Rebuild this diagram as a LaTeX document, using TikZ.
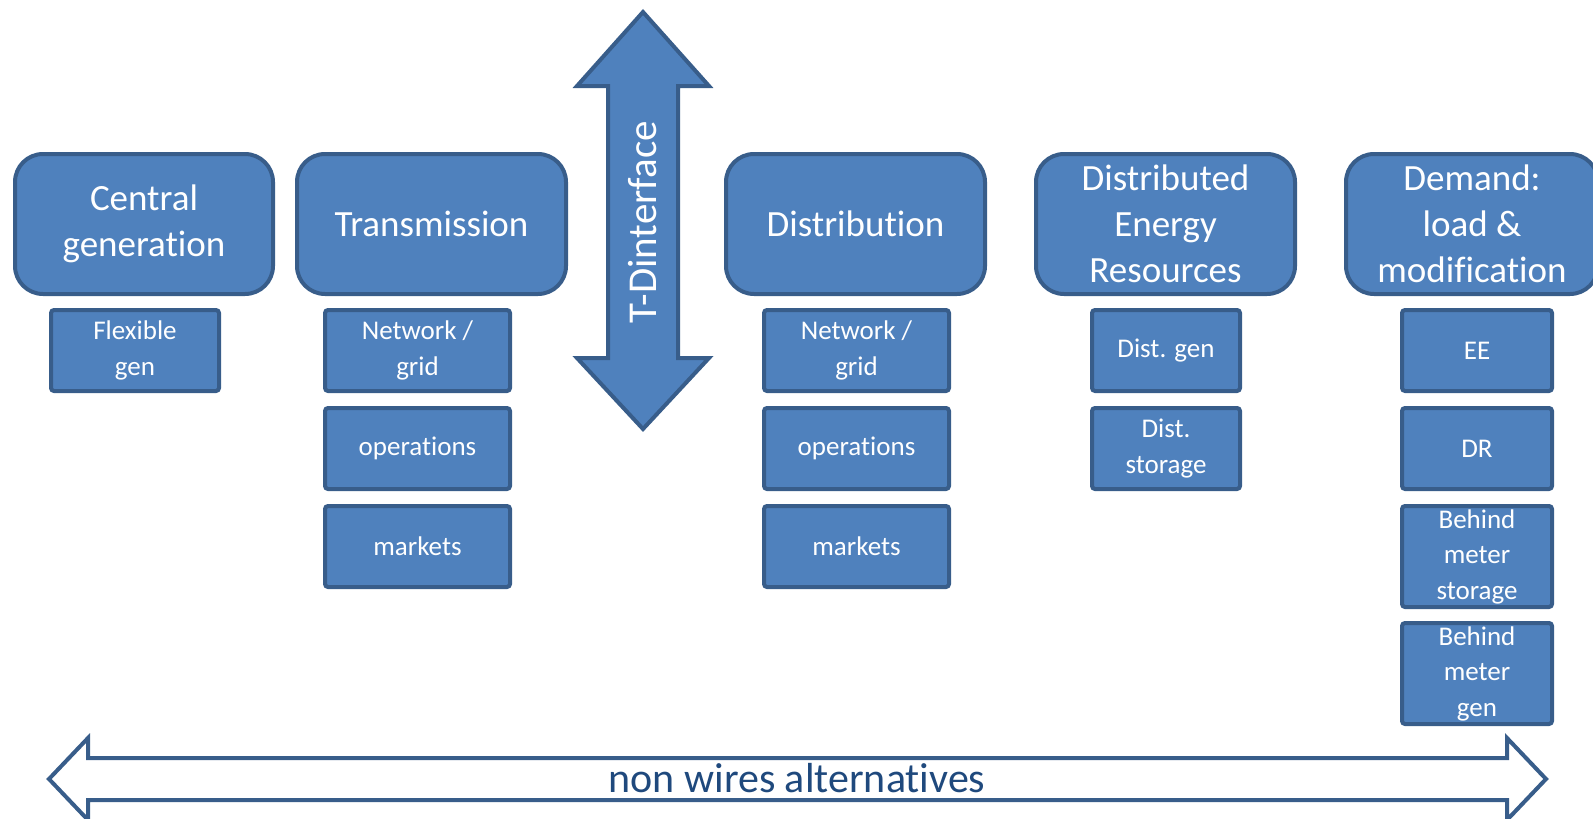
\documentclass[tikz,border=0pt]{standalone}
\usepackage{fontspec}
\setmainfont[Ligatures=NoCommon]{Carlito}
\usetikzlibrary{positioning}
\definecolor{boxblue}{HTML}{4F81BD}
\definecolor{edgeblue}{HTML}{385D8A}
\definecolor{textblue}{HTML}{1F497D}
\begin{document}
\begin{tikzpicture}[
		x=1pt,y=-1pt,
		bigbox/.style={
		  draw=edgeblue,
		  fill=boxblue,
		  line width=4pt,
		  rounded corners=28pt,
		  text=white,
		  anchor=north west,
		  minimum height=140pt,
		  inner sep=0pt,
		  align=center,
		  font=\fontsize{37}{46}\selectfont
		  },
		subbox/.style={
		  draw=edgeblue,
		  fill=boxblue,
		  line width=4pt,
		  rounded corners=3pt,
		  text=white,
		  anchor=north west,
		  minimum height=81pt,
		  inner sep=0pt,
		  align=center,
		  font=\fontsize{27}{35.5}\selectfont
		  },
		bigarrow/.style={
		  draw=edgeblue,
		  line width=4pt
		  }
		]
		\useasboundingbox (0,0) rectangle (1593,819);
		% top row
		\node[bigbox,minimum width=258pt] (cgen) at (13,152) {Central\\generation};
		\node[bigbox,minimum width=269pt] (tr) at (295,152) {Transmission};
		\node[bigbox,minimum width=259pt] (di) at (724,152) {Distribution};
		\node[bigbox,minimum width=259pt] (der) at (1034,152) {Distributed\\Energy\\Resources};
		\node[bigbox,minimum width=252pt] (dem) at (1344,152) {Demand:\\load \&\\modification};
		% T-D interface
		\draw[bigarrow,fill=boxblue] (643,12) -- (709,86) -- (678,86) -- (678,358) -- (709,358)
		  -- (643,429) -- (577,358) -- (608,358) -- (608,86) -- (577,86) -- cycle;
		\node[rotate=90,text=white,font=\fontsize{41}{48}\selectfont] (tdlabel) at (643,222) {T-Dinterface};
		% sub boxes
		\node[subbox,minimum width=168pt] (flex) at (49,308) {Flexible\\gen};
		\foreach \col/\xx in {tr/323,di/762}
		{
		  \node[subbox,minimum width=185pt] (\col-net) at (\xx,308) {Network /\\grid};
		  \node[subbox,minimum width=185pt] (\col-ops) at (\xx,406) {operations};
		  \node[subbox,minimum width=185pt] (\col-mkt) at (\xx,504) {markets};
		}
		\node[subbox,minimum width=148pt] (dgen) at (1090,308) {Dist. gen};
		\node[subbox,minimum width=148pt] (dsto) at (1090,406) {Dist.\\storage};
		\node[subbox,minimum width=150pt] (ee) at (1400,308) {EE};
		\node[subbox,minimum width=150pt] (dr) at (1400,406) {DR};
		\node[subbox,minimum width=150pt,minimum height=101pt] (bms) at (1400,504) {Behind\\meter\\storage};
		\node[subbox,minimum width=150pt,minimum height=101pt] (bmg) at (1400,621) {Behind\\meter\\gen};
		% non wires alternatives
		\draw[bigarrow,fill=white] (49,779) -- (88,738) -- (88,758) -- (1507,758) -- (1507,738)
		  -- (1546,779) -- (1507,820) -- (1507,800) -- (88,800) -- (88,820) -- cycle;
		\node[anchor=base,text=textblue,font=\fontsize{42}{48}\selectfont] (nwa) at (797,792) {non wires alternatives};
	\end{tikzpicture}
\end{document}
